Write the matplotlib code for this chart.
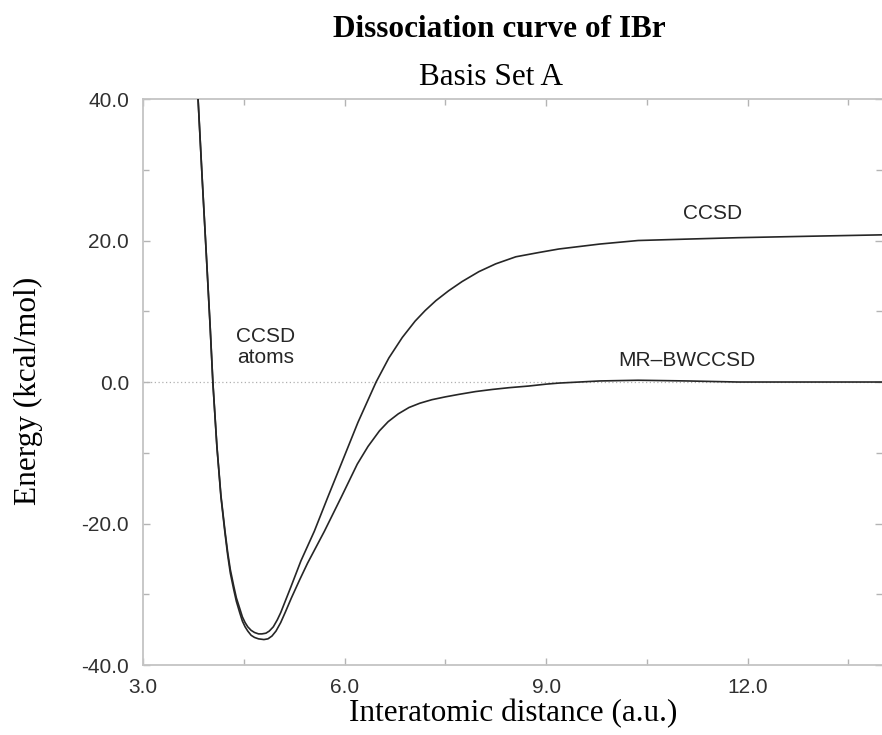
import matplotlib
matplotlib.use("Agg")
import matplotlib.pyplot as plt
from matplotlib.ticker import MultipleLocator, FormatStrFormatter

# values (distance in a.u., energy in kcal/mol)
ccsd_r = [3.82, 3.88, 3.94, 4.00, 4.04, 4.10, 4.16, 4.22, 4.26, 4.30, 4.35,
          4.39, 4.44, 4.48, 4.52, 4.56, 4.61, 4.66, 4.72, 4.77, 4.83, 4.88,
          4.94, 5.00, 5.05, 5.10, 5.20, 5.35, 5.55, 5.75, 5.95, 6.20, 6.47,
          6.66, 6.86, 7.05, 7.20, 7.36, 7.55, 7.75, 8.00, 8.25, 8.55, 8.89,
          9.19, 9.80, 10.37, 11.10, 11.86, 12.90, 14.00]
ccsd_e = [40.0, 29.0, 18.5, 7.8, 0.0, -9.0, -16.0, -21.0, -24.0, -26.5, -28.8,
          -30.5, -32.0, -33.2, -34.0, -34.6, -35.1, -35.4, -35.6, -35.6, -35.5,
          -35.2, -34.6, -33.6, -32.6, -31.4, -29.0, -25.3, -21.1, -16.3, -11.6,
          -5.7, 0.0, 3.4, 6.3, 8.6, 10.1, 11.5, 12.9, 14.2, 15.6, 16.7, 17.7,
          18.3, 18.8, 19.5, 20.0, 20.2, 20.4, 20.6, 20.8]

mr_r = [3.82, 3.88, 3.94, 4.00, 4.04, 4.10, 4.16, 4.22, 4.26, 4.30, 4.35,
        4.39, 4.44, 4.48, 4.52, 4.56, 4.61, 4.66, 4.72, 4.80, 4.86, 4.92,
        4.98, 5.05, 5.12, 5.21, 5.33, 5.45, 5.70, 5.95, 6.19, 6.35, 6.52,
        6.65, 6.80, 6.96, 7.12, 7.30, 7.50, 7.70, 7.95, 8.20, 8.45, 8.74,
        9.00, 9.19, 9.80, 10.37, 11.10, 11.86, 12.90, 14.00]
mr_e = [40.0, 29.0, 18.5, 7.8, 0.0, -9.1, -16.2, -21.3, -24.4, -27.0, -29.3,
        -31.0, -32.6, -33.8, -34.6, -35.2, -35.8, -36.1, -36.3, -36.4, -36.3,
        -35.9, -35.2, -34.0, -32.5, -30.5, -28.0, -25.6, -21.1, -16.3, -11.6,
        -9.1, -6.9, -5.6, -4.5, -3.6, -3.0, -2.5, -2.1, -1.75, -1.35, -1.05,
        -0.8, -0.57, -0.3, -0.15, 0.15, 0.25, 0.15, 0.0, 0.0, 0.0]

x_major = [3.0, 6.0, 9.0, 12.0]
y_major = [-40.0, -20.0, 0.0, 20.0, 40.0]

serif = ['Liberation Serif', 'DejaVu Serif']
sans = ['Liberation Sans', 'DejaVu Sans']
plt.rcParams['font.family'] = sans

fig = plt.figure(figsize=(8.82, 7.35), dpi=100)
ax = fig.add_axes([0.1621, 0.0952, 0.8379, 0.7701])

ax.axhline(0, color='#b0b0b0', lw=0.9, ls=(0, (1, 2)), zorder=1)
ax.plot(ccsd_r, ccsd_e, color='#262626', lw=1.2, zorder=3)
ax.plot(mr_r, mr_e, color='#262626', lw=1.2, zorder=3)

ax.set_xlim(3.0, 14.0)
ax.set_ylim(-40.0, 40.0)
ax.set_xticks(x_major)
ax.set_yticks(y_major)
ax.xaxis.set_minor_locator(MultipleLocator(1.5))
ax.yaxis.set_minor_locator(MultipleLocator(10))
ax.xaxis.set_major_formatter(FormatStrFormatter('%.1f'))
ax.yaxis.set_major_formatter(FormatStrFormatter('%.1f'))

for s in ['left', 'bottom', 'top']:
    ax.spines[s].set_color('#c4c4c4')
    ax.spines[s].set_linewidth(1.3)
ax.spines['right'].set_visible(False)

ax.tick_params(which='both', direction='in', top=True, right=True,
               color='#b4b4b4', width=1.0, labelsize=15, labelcolor='#303030')
ax.tick_params(which='major', length=5)
ax.tick_params(which='minor', length=4)
ax.tick_params(axis='x', pad=9)
ax.tick_params(axis='y', pad=10)

ax.text(11.48, 23.8, 'CCSD', fontsize=15, color='#262626', ha='center', va='center')
ax.text(11.10, 3.0, 'MR\u2013BWCCSD', fontsize=15, color='#262626',
        ha='center', va='center')
ax.text(4.83, 5.0, 'CCSD\natoms', fontsize=15, color='#262626',
        ha='center', va='center', linespacing=1.15)

fig.text(0.5658, 0.9592, 'Dissociation curve of IBr', family=serif,
         fontsize=22.5, fontweight='bold', ha='center', va='center')
fig.text(0.5567, 0.8939, 'Basis Set A', family=serif, fontsize=22.5,
         ha='center', va='center')
fig.text(0.5816, 0.029, 'Interatomic distance (a.u.)', family=serif,
         fontsize=22.5, ha='center', va='center')
fig.text(0.032, 0.468, 'Energy (kcal/mol)', family=serif, fontsize=22.5,
         ha='center', va='center', rotation=90)

fig.savefig('out.png', dpi=100)
